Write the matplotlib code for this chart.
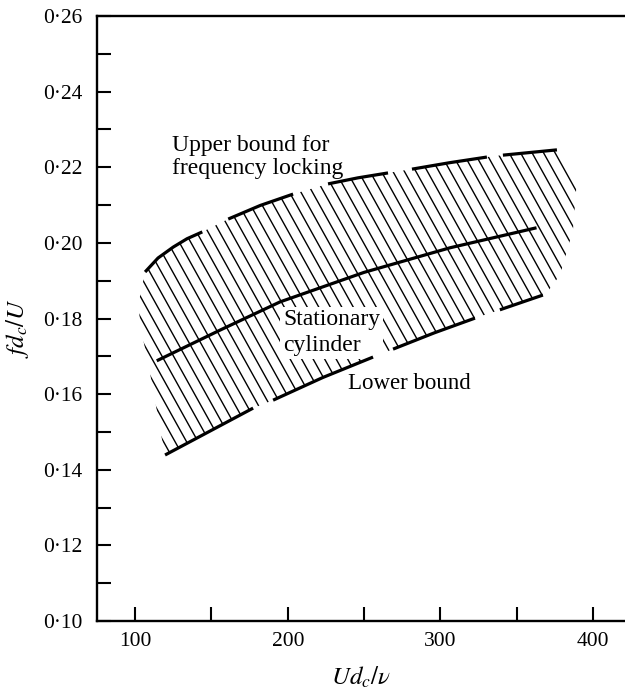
import matplotlib
matplotlib.use("Agg")
import matplotlib.pyplot as plt
import numpy as np
from matplotlib.collections import LineCollection
from matplotlib.patches import Polygon

plt.rcParams['font.family'] = ['Liberation Serif', 'DejaVu Serif']
plt.rcParams['mathtext.fontset'] = 'stix'

# upper bound for frequency locking, drawn as broken thick strokes
upper_segs = [
    ([106.5, 115.0, 125.0, 134.0, 144.0], [0.1923, 0.1960, 0.1989, 0.2011, 0.2029]),
    ([161.0, 182.0, 203.5], [0.2063, 0.2099, 0.2129]),
    ([226.4, 246.0, 265.7], [0.2156, 0.2172, 0.2185]),
    ([281.4, 306.0, 330.5], [0.2195, 0.2212, 0.2227]),
    ([341.0, 376.4], [0.2232, 0.2246]),
]
# lower bound
lower_segs = [
    ([119.6, 148.0, 177.3], [0.1439, 0.1500, 0.1563]),
    ([190.4, 223.0, 255.9], [0.1584, 0.1644, 0.1698]),
    ([269.0, 296.0, 322.7], [0.1719, 0.1762, 0.1801]),
    ([339.0, 367.2], [0.1823, 0.1862]),
]
# stationary cylinder
stat_x = [115.1, 156.0, 195.0, 250.0, 306.3, 362.0]
stat_y = [0.1690, 0.1770, 0.1844, 0.1922, 0.1987, 0.2039]

# ragged ends of the hatched band
right_edge_x = [378.4, 389.5, 386.9, 378.4, 368.6]
right_edge_y = [0.2246, 0.2166, 0.2034, 0.1915, 0.1862]
left_edge_x = [119.6, 116.4, 112.4, 108.5, 103.9, 102.0, 106.5]
left_edge_y = [0.1439, 0.1505, 0.1598, 0.1682, 0.1770, 0.1836, 0.1923]

xticks_major = [100, 200, 300, 400]
xticks_minor = [150, 250, 350]
yticks_major = [0.10, 0.12, 0.14, 0.16, 0.18, 0.20, 0.22, 0.24, 0.26]
yticks_minor = [0.11, 0.13, 0.15, 0.17, 0.19, 0.21, 0.23, 0.25]
ytick_labels = ['0·10', '0·12', '0·14', '0·16', '0·18', '0·20', '0·22', '0·24', '0·26']

fig = plt.figure(figsize=(6.25, 6.93), dpi=100)
ax = fig.add_axes([0.1552, 0.1039, 0.8448, 0.873])
ax.set_xlim(75, 421)
ax.set_ylim(0.10, 0.26)

# hatching: parallel strokes clipped to the band between the bounds
band_x = []
band_y = []
for sx_, sy_ in upper_segs:
    band_x += sx_
    band_y += sy_
band_x += right_edge_x
band_y += right_edge_y
for sx_, sy_ in reversed(lower_segs):
    band_x += sx_[::-1]
    band_y += sy_[::-1]
band_x += left_edge_x
band_y += left_edge_y
band = Polygon(np.column_stack([band_x, band_y]), closed=True,
               facecolor='none', edgecolor='none', transform=ax.transData)
ax.add_patch(band)

fig.canvas.draw()
o = ax.transData.transform((0, 0))
px_x = ax.transData.transform((1, 0))[0] - o[0]
px_y = ax.transData.transform((0, 1))[1] - o[1]
slope = -1.8 * px_x / px_y          # steep strokes falling to the right
step = 11.5 / px_x                  # spacing in data x
y_ref = 0.19
lines = []
for x0 in np.arange(60, 440, step):
    ya, yb = 0.25, 0.13
    xa = x0 + (ya - y_ref) / slope
    xb = x0 + (yb - y_ref) / slope
    lines.append([(xa, ya), (xb, yb)])
hatch = LineCollection(lines, colors='black', linewidths=1.0, zorder=2)
hatch.set_clip_path(band)
ax.add_collection(hatch)

for sx_, sy_ in upper_segs:
    ax.plot(sx_, sy_, color='black', lw=2.3, solid_capstyle='butt', zorder=4)
for sx_, sy_ in lower_segs:
    ax.plot(sx_, sy_, color='black', lw=2.3, solid_capstyle='butt', zorder=4)
ax.plot(stat_x, stat_y, color='black', lw=2.3, zorder=4)

ax.text(124.2, 0.2227, 'Upper bound for\nfrequency locking', fontsize=17,
        ha='left', va='center', linespacing=1.18)
ax.text(196.9, 0.1762, 'Stationary\ncylinder', fontsize=17, ha='left',
        va='center', linespacing=1.3, zorder=3,
        bbox=dict(boxstyle='square,pad=0.12', fc='white', ec='none'))
ax.text(239.5, 0.1627, 'Lower bound', fontsize=16.5, ha='left', va='center')

ax.set_xticks(xticks_major)
ax.set_xticks(xticks_minor, minor=True)
ax.set_yticks(yticks_major)
ax.set_yticks(yticks_minor, minor=True)
ax.set_yticklabels(ytick_labels)
ax.tick_params(axis='both', which='both', direction='in', length=10, width=1.5,
               labelsize=15.5)
ax.tick_params(axis='x', which='both', top=False, pad=8)
ax.tick_params(axis='y', which='both', right=False, pad=10.5)

for side in ['left', 'bottom', 'top']:
    ax.spines[side].set_linewidth(1.7)
ax.spines['right'].set_visible(False)

ax.set_xlabel(r'$Ud_c/\nu$', fontsize=18, labelpad=10)
ax.set_ylabel(r'$fd_c/U$', fontsize=18)
ax.yaxis.set_label_coords(-0.125, 0.484)

fig.savefig('out.png', dpi=100)
